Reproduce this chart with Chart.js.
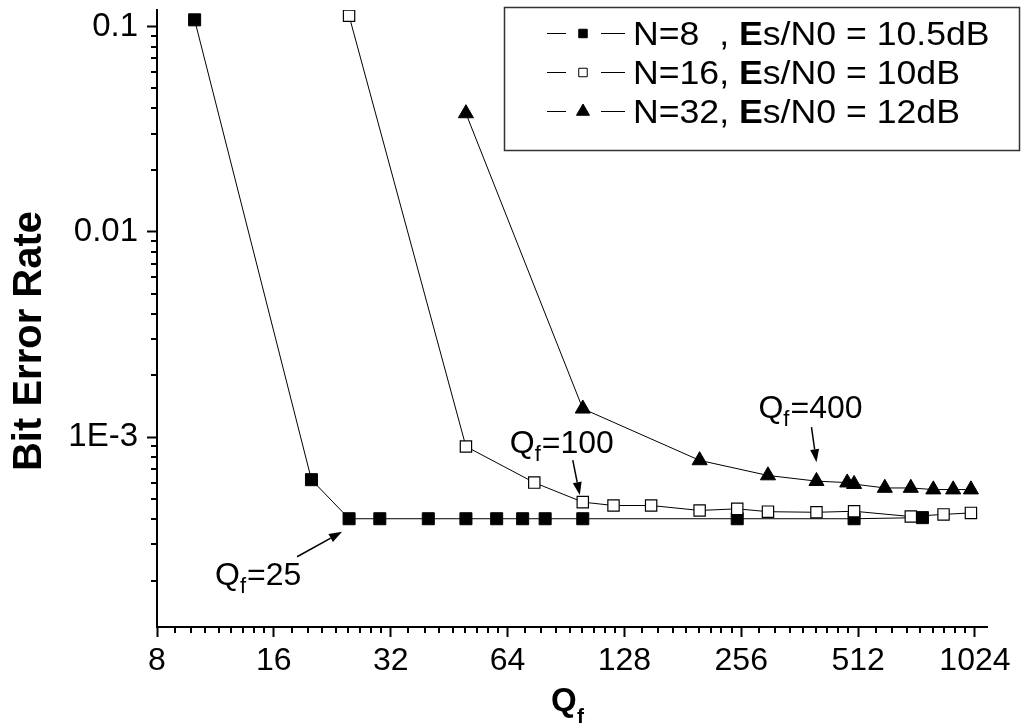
<!DOCTYPE html>
<html>
<head>
<meta charset="utf-8">
<script src="https://cdn.jsdelivr.net/npm/chart.js@4.4.1/dist/chart.umd.min.js"></script>
<style>
  html, body { margin: 0; padding: 0; background: #fff; }
</style>
</head>
<body>
<canvas id="myChart" width="1029" height="725"></canvas>
<script>
const FONT = '"Liberation Sans", Arial, sans-serif';

// data
const qfN8  = [10, 20, 25, 30, 40, 50, 60, 70, 80, 100, 250, 500, 750];
const berN8 = [0.108, 6.2e-4, 4.0e-4, 4.0e-4, 4.0e-4, 4.0e-4, 4.0e-4, 4.0e-4, 4.0e-4, 4.0e-4, 4.0e-4, 4.0e-4, 4.05e-4];

const qfN16  = [25, 50, 75, 100, 120, 150, 200, 250, 300, 400, 500, 700, 850, 1000];
const berN16 = [0.113, 9.0e-4, 6.0e-4, 4.82e-4, 4.64e-4, 4.64e-4, 4.39e-4, 4.47e-4, 4.33e-4, 4.3e-4, 4.35e-4, 4.1e-4, 4.2e-4, 4.27e-4];

const qfN32  = [50, 100, 200, 300, 400, 480, 500, 600, 700, 800, 900, 1000];
const berN32 = [0.0378, 1.375e-3, 7.7e-4, 6.5e-4, 6.1e-4, 6.0e-4, 5.9e-4, 5.65e-4, 5.65e-4, 5.55e-4, 5.55e-4, 5.55e-4];

const xTicks = [8, 16, 32, 64, 128, 256, 512, 1024];
const yTicks = [0.001, 0.01, 0.1];

// legend text: [text, bold]
const legendN8  = [['N=8  , ', false], ['E', true], ['s/N0 = 10.5dB', false]];
const legendN16 = [['N=16, ', false], ['E', true], ['s/N0 = 10dB', false]];
const legendN32 = [['N=32, ', false], ['E', true], ['s/N0 = 12dB', false]];

const pts = (xs, ys) => xs.map((x, i) => ({ x: x, y: ys[i] }));

function arrow(c, x1, y1, x2, y2) {
  const ang = Math.atan2(y2 - y1, x2 - x1), L = 13, W = 4.5;
  const bx = x2 - L * Math.cos(ang), by = y2 - L * Math.sin(ang);
  c.beginPath(); c.moveTo(x1, y1); c.lineTo(bx, by); c.lineWidth = 1.5; c.stroke();
  c.beginPath();
  c.moveTo(x2, y2);
  c.lineTo(bx + W * Math.sin(ang), by - W * Math.cos(ang));
  c.lineTo(bx - W * Math.sin(ang), by + W * Math.cos(ang));
  c.closePath(); c.fill();
}

function qLabel(c, x, y, rest, size) {
  c.font = size + 'px ' + FONT;
  c.fillText('Q', x, y);
  let w = c.measureText('Q').width;
  c.font = Math.round(size * 0.7) + 'px ' + FONT;
  c.fillText('f', x + w, y + 8);
  w += c.measureText('f').width + 1;
  c.font = size + 'px ' + FONT;
  c.fillText(rest, x + w, y);
}

const extras = {
  id: 'extras',
  afterDraw(chart) {
    const c = chart.ctx, xs = chart.scales.x, ys = chart.scales.y, a = chart.chartArea;
    c.save();
    c.strokeStyle = '#000'; c.fillStyle = '#000'; c.lineWidth = 2;

    // minor ticks
    xTicks.forEach(k => {
      for (let j = 1; j <= 8; j++) {
        const v = k * (1 + j / 9);
        if (v > xs.max) continue;
        const px = Math.round(xs.getPixelForValue(v));
        c.beginPath(); c.moveTo(px, a.bottom); c.lineTo(px, a.bottom + 6); c.stroke();
      }
    });
    [1e-4, 1e-3, 1e-2].forEach(d => {
      for (let m = 2; m <= 9; m++) {
        const v = d * m;
        if (v < ys.min || v > ys.max) continue;
        const py = Math.round(ys.getPixelForValue(v));
        c.beginPath(); c.moveTo(a.left, py); c.lineTo(a.left - 6, py); c.stroke();
      }
    });

    // axis titles
    c.save();
    c.translate(41, 341); c.rotate(-Math.PI / 2);
    c.font = 'bold 40px ' + FONT; c.textAlign = 'center'; c.textBaseline = 'alphabetic';
    c.fillText('Bit Error Rate', 0, 0);
    c.restore();
    c.textBaseline = 'alphabetic';
    c.font = 'bold 33px ' + FONT;
    c.fillText('Q', 551, 711);
    c.font = 'bold 21px ' + FONT;
    c.fillText('f', 577, 723);

    // annotations
    const notes = [
      { x: 25, y: berN8[2], rest: '=25', tip: [-7, 13], tail: [-52, 38], lab: [-134, 66] },
      { x: 100, y: berN16[3], rest: '=100', tip: [-3, -7], tail: [-10, -42], lab: [-73, -49] },
      { x: 400, y: berN32[4], rest: '=400', tip: [0, -19], tail: [-5, -54], lab: [-58, -63] }
    ];
    notes.forEach(n => {
      const px = xs.getPixelForValue(n.x), py = ys.getPixelForValue(n.y);
      arrow(c, px + n.tail[0], py + n.tail[1], px + n.tip[0], py + n.tip[1]);
      qLabel(c, px + n.lab[0], py + n.lab[1], n.rest, 32);
    });

    // legend
    c.lineWidth = 1.5; c.strokeStyle = '#333';
    c.strokeRect(504.5, 7.5, 515, 143);
    const rows = [legendN8, legendN16, legendN32];
    chart.data.datasets.forEach((ds, i) => {
      const y = 33 + i * 39;
      c.strokeStyle = '#000'; c.lineWidth = 1;
      c.beginPath(); c.moveTo(547, y + 0.5); c.lineTo(566, y + 0.5); c.moveTo(601, y + 0.5); c.lineTo(625, y + 0.5); c.stroke();
      c.fillStyle = ds.pointBackgroundColor; c.strokeStyle = '#000';
      Chart.helpers.drawPoint(c, { pointStyle: ds.pointStyle, radius: ds.pointStyle === 'triangle' ? 7.5 : 6, borderWidth: 1, rotation: 0 }, 583, y + 0.5);
      c.fillStyle = '#000';
      c.save();
      c.translate(633, y + 12); c.scale(1.08, 1);
      let tx = 0;
      rows[i].forEach(p => {
        c.font = (p[1] ? 'bold ' : '') + '33px ' + FONT;
        c.fillText(p[0], tx, 0);
        tx += c.measureText(p[0]).width;
      });
      c.restore();
    });
    c.restore();
  }
};

const ctx = document.getElementById('myChart');

new Chart(ctx, {
  type: 'line',
  data: {
    datasets: [
      {
        label: 'N=8, Es/N0 = 10.5dB',
        data: pts(qfN8, berN8),
        borderColor: '#000', borderWidth: 1,
        pointStyle: 'rect', pointRadius: 8.5,
        pointBackgroundColor: '#000', pointBorderColor: '#000', pointBorderWidth: 1,
        order: 2
      },
      {
        label: 'N=16, Es/N0 = 10dB',
        data: pts(qfN16, berN16),
        borderColor: '#000', borderWidth: 1,
        pointStyle: 'rect', pointRadius: 8,
        pointBackgroundColor: '#fff', pointBorderColor: '#000', pointBorderWidth: 1.2,
        order: 1
      },
      {
        label: 'N=32, Es/N0 = 12dB',
        data: pts(qfN32, berN32),
        borderColor: '#000', borderWidth: 1,
        pointStyle: 'triangle', pointRadius: 8.7,
        pointBackgroundColor: '#000', pointBorderColor: '#000', pointBorderWidth: 1,
        order: 0
      }
    ]
  },
  options: {
    responsive: false,
    animation: false,
    devicePixelRatio: 1,
    layout: { padding: { top: 10, right: 42, bottom: 0, left: 0 } },
    plugins: { legend: { display: false }, tooltip: { enabled: false } },
    scales: {
      x: {
        type: 'logarithmic',
        min: 8, max: 1100,
        afterBuildTicks: s => { s.ticks = xTicks.map(v => ({ value: v })); },
        afterFit: s => { s.height = 98; s.paddingLeft = 0; s.paddingRight = 0; },
        ticks: {
          autoSkip: false, maxRotation: 0, color: '#000', padding: 5,
          font: { family: FONT, size: 32 },
          callback: v => String(v)
        },
        grid: { drawOnChartArea: false, tickLength: 10, tickWidth: 2, tickColor: '#000' },
        border: { color: '#000', width: 2 }
      },
      y: {
        type: 'logarithmic',
        min: 1.187e-4, max: 0.1206,
        afterBuildTicks: s => { s.ticks = yTicks.map(v => ({ value: v })); },
        afterFit: s => { s.width = 157; s.paddingTop = 0; s.paddingBottom = 0; },
        ticks: {
          autoSkip: false, color: '#000', padding: 9,
          font: { family: FONT, size: 33 },
          callback: v => (v === 0.001 ? '1E-3' : String(v))
        },
        grid: { drawOnChartArea: false, tickLength: 10, tickWidth: 2, tickColor: '#000' },
        border: { color: '#000', width: 2 }
      }
    }
  },
  plugins: [extras]
});
</script>
</body>
</html>
